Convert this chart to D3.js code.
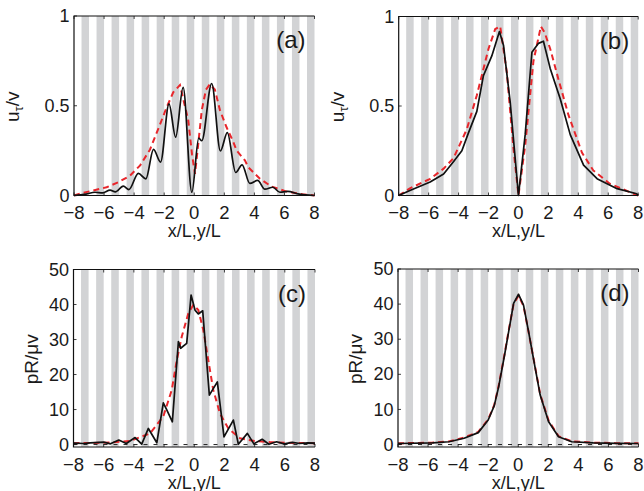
<!DOCTYPE html>
<html>
<head>
<meta charset="utf-8">
<script src="https://cdn.jsdelivr.net/npm/d3@7"></script>
<style>
  html, body { margin: 0; padding: 0; background: #ffffff; }
  #screen { width: 644px; height: 491px; overflow: hidden; }
  text { font-family: "Liberation Sans", Arial, Helvetica, sans-serif; fill: #1a1a1a; }
</style>
</head>
<body>
<div id="screen"></div>
<script>
// gray bands, each 0.5 wide, start positions along x/L
const bandStarts = [-7.5, -6.5, -5.5, -4.5, -3.5, -2.5, -1.5, -0.5, 0.5, 1.5, 2.5, 3.5, 4.5, 5.5, 6.5, 7.5];

const xTicks = [-8, -6, -4, -2, 0, 2, 4, 6, 8];
const xTickLabels = ["\u22128", "\u22126", "\u22124", "\u22122", "0", "2", "4", "6", "8"];
const uTicks = [0, 0.5, 1];
const uTickLabels = ["0", "0.5", "1"];
const pTicks = [0, 10, 20, 30, 40, 50];
const pTickLabels = ["0", "10", "20", "30", "40", "50"];

// (a) solid and dashed
const xA = [-8, -7.2, -6.6, -6.1, -5.6, -5.25, -4.72, -4.35, -3.72, -3.22, -2.71, -2.24, -1.68, -1.24, -0.74, -0.16, 0.3, 0.5, 1.16, 1.74, 2.2, 2.76, 3.18, 3.7, 4.22, 4.7, 5.22, 5.7, 6.22, 6.9, 8];
const uA = [0, 0.008, 0.018, 0.015, 0.03, 0.02, 0.052, 0.033, 0.123, 0.093, 0.257, 0.186, 0.511, 0.325, 0.602, 0.018, 0.32, 0.305, 0.624, 0.248, 0.35, 0.128, 0.171, 0.067, 0.084, 0.035, 0.046, 0.018, 0.023, 0.009, 0];
const xAr = [-8, -7.6, -6.72, -5.83, -5.05, -4.28, -3.6, -2.95, -2.4, -1.84, -1.4, -0.95, -0.4, -0.15, 0.05, 0.27, 0.5, 0.78, 1.04, 1.37, 1.71, 2.15, 2.59, 2.82, 3.37, 3.59, 4.37, 5.14, 6.1, 7.2, 8];
const uAr = [0, 0.01, 0.028, 0.046, 0.074, 0.11, 0.168, 0.255, 0.37, 0.49, 0.575, 0.615, 0.42, 0.23, 0.12, 0.29, 0.475, 0.59, 0.62, 0.59, 0.475, 0.38, 0.30, 0.25, 0.196, 0.158, 0.093, 0.05, 0.023, 0.007, 0];

// (b)
const xB = [-8, -7.25, -5.9, -5.0, -4.33, -3.78, -3.34, -2.78, -2.34, -1.78, -1.27, -1.0, -0.55, 0, 0.45, 0.9, 1.34, 1.67, 2.12, 2.79, 3.46, 4.35, 5.25, 6.59, 7.9, 8];
const uB = [0, 0.028, 0.075, 0.12, 0.19, 0.25, 0.35, 0.47, 0.67, 0.78, 0.916, 0.84, 0.52, 0.0, 0.34, 0.80, 0.85, 0.862, 0.71, 0.54, 0.34, 0.17, 0.094, 0.038, 0.01, 0];
const xBr = [-8, -7.25, -5.9, -5.0, -4.33, -3.45, -2.78, -2.0, -1.55, -1.22, -0.78, -0.33, 0, 0.45, 1.0, 1.5, 1.75, 2.12, 2.67, 3.34, 4.24, 5.0, 6.1, 7.7, 8];
const uBr = [0, 0.04, 0.093, 0.15, 0.21, 0.37, 0.56, 0.82, 0.93, 0.945, 0.69, 0.26, 0, 0.28, 0.75, 0.945, 0.91, 0.82, 0.65, 0.45, 0.24, 0.14, 0.066, 0.01, 0];

// (c)
const xC = [-8, -7.3, -6.9, -6.0, -5.55, -5.0, -4.5, -3.92, -3.48, -3.04, -2.48, -2.05, -1.82, -1.45, -1.05, -0.9, -0.5, -0.21, 0.05, 0.27, 0.56, 1.0, 1.53, 1.97, 2.59, 2.92, 3.52, 3.95, 4.5, 4.95, 5.45, 5.95, 6.5, 7.0, 7.5, 8];
const pC = [0.4, 0.3, 0.5, 0.7, 0.2, 1.3, 0.3, 2.0, 0.1, 4.6, 0.5, 11.9, 9.9, 6.5, 29.4, 27.5, 28.9, 42.7, 38.4, 37.3, 38.2, 14.1, 17.9, 2.2, 7.0, 0.1, 3.2, 0.2, 1.5, 0.1, 0.8, 0.2, 0.6, 0.3, 0.5, 0.4];
const xCr = [-8, -6, -4.25, -2.93, -2.05, -1.49, -1.16, -0.83, -0.39, -0.06, 0.27, 0.6, 0.93, 1.26, 1.7, 2.26, 3.03, 4, 5, 6, 8];
const pCr = [0.4, 0.5, 1.0, 3.2, 8.0, 15.6, 24, 30.8, 37.5, 39.9, 38.4, 32.7, 24.1, 15.6, 8.9, 4.6, 1.8, 1.0, 0.7, 0.5, 0.4];

// (d)
const xD = [-8, -5.7, -4.6, -3.6, -2.66, -2.0, -1.6, -1.3, -0.91, -0.64, -0.31, 0.02, 0.35, 0.69, 1.13, 1.46, 2.02, 2.68, 3.56, 5, 6.5, 8];
const pD = [0.3, 0.5, 0.8, 1.8, 3.4, 7.0, 11.0, 16.5, 25.5, 32.1, 40.2, 42.8, 39.7, 32.1, 21.7, 14.1, 6.5, 2.2, 0.8, 0.5, 0.35, 0.3];
const xDr = [-8, -5.7, -4.6, -3.6, -2.66, -2.0, -1.6, -1.3, -0.91, -0.64, -0.31, 0.02, 0.35, 0.69, 1.13, 1.46, 2.02, 2.68, 3.56, 5, 6.5, 8];
const pDr = [0.35, 0.55, 0.9, 2.0, 3.6, 7.2, 11.2, 16.8, 25.8, 32.4, 40.0, 42.4, 39.5, 32.0, 21.9, 14.3, 6.8, 2.4, 0.9, 0.55, 0.4, 0.35];

const uLabel = ["u", "\u03c4", "/v"];
const pLabel = "pR/\u03bcv";

const panels = [
    {tag: "(a)", left: 74, top: 16, w: 240.5, h: 179.5, yDom: [0, 1], yt: uTicks, ytl: uTickLabels,
     solid: [xA, uA], dashed: [xAr, uAr], smooth: true, ylab: "u"},
    {tag: "(b)", left: 398.7, top: 16.5, w: 239.5, h: 179, yDom: [0, 1], yt: uTicks, ytl: uTickLabels,
     solid: [xB, uB], dashed: [xBr, uBr], smooth: false, ylab: "u"},
    {tag: "(c)", left: 73.5, top: 269.5, w: 241.5, h: 177.5, yDom: [-0.7, 50], yt: pTicks, ytl: pTickLabels,
     solid: [xC, pC], dashed: [xCr, pCr], smooth: false, ylab: "p"},
    {tag: "(d)", left: 398, top: 269, w: 240.5, h: 178, yDom: [-0.7, 50], yt: pTicks, ytl: pTickLabels,
     solid: [xD, pD], dashed: [xDr, pDr], smooth: false, ylab: "p"}
];

const svg = d3.select("#screen").append("svg").attr("width", 644).attr("height", 491);

const drawPanel = function(p) {
    var g = svg.append("g").attr("transform", "translate(" + p.left + "," + p.top + ")");
    var x = d3.scaleLinear().domain([-8, 8]).range([0, p.w]);
    var y = d3.scaleLinear().domain(p.yDom).range([p.h, 0]);

    // stripes
    g.selectAll("rect.band").data(bandStarts).enter().append("rect")
        .attr("x", d => x(d))
        .attr("y", 0)
        .attr("width", d => x(Math.min(d + 0.5, 8)) - x(d))
        .attr("height", p.h)
        .attr("fill", "#d2d3d5");

    // zero line
    g.append("line")
        .attr("x1", 0).attr("x2", p.w)
        .attr("y1", y(0)).attr("y2", y(0))
        .attr("stroke", "#222").attr("stroke-width", 1)
        .attr("stroke-dasharray", "4,6");

    var mk = function(arr) { return arr[0].map((v, i) => [v, arr[1][i]]); };

    var redLine = d3.line().x(d => x(d[0])).y(d => y(d[1]));
    g.append("path").datum(mk(p.dashed))
        .attr("d", redLine)
        .attr("fill", "none")
        .attr("stroke", "#e8262b")
        .attr("stroke-width", 2)
        .attr("stroke-dasharray", "6,4");

    var blackLine = d3.line().x(d => x(d[0])).y(d => y(d[1]))
        .curve(p.smooth ? d3.curveMonotoneX : d3.curveLinear);
    g.append("path").datum(mk(p.solid))
        .attr("d", blackLine)
        .attr("fill", "none")
        .attr("stroke", "#111")
        .attr("stroke-width", 1.7)
        .attr("stroke-linejoin", "round");

    // frame: top, left, bottom
    g.append("path")
        .attr("d", "M" + p.w + ",0H0V" + p.h + "H" + p.w)
        .attr("fill", "none").attr("stroke", "#111").attr("stroke-width", 1.2);

    // ticks (inward, bottom + top) 
    xTicks.forEach((t, i) => {
        g.append("line").attr("x1", x(t)).attr("x2", x(t)).attr("y1", p.h).attr("y2", p.h - 3)
            .attr("stroke", "#111").attr("stroke-width", 0.8);
        g.append("line").attr("x1", x(t)).attr("x2", x(t)).attr("y1", 0).attr("y2", 3)
            .attr("stroke", "#111").attr("stroke-width", 0.8);
        g.append("text").text(xTickLabels[i])
            .attr("x", x(t)).attr("y", p.h + 23.5)
            .attr("text-anchor", "middle")
            .style("font-size", "18.5px");
    });

    p.yt.forEach((t, i) => {
        g.append("line").attr("x1", 0).attr("x2", 3).attr("y1", y(t)).attr("y2", y(t))
            .attr("stroke", "#111").attr("stroke-width", 0.8);
        g.append("text").text(p.ytl[i])
            .attr("x", -4.5).attr("y", y(t))
            .attr("dy", "0.34em")
            .attr("text-anchor", "end")
            .style("font-size", "18px");
    });

    // axis labels
    g.append("text").text("x/L,y/L")
        .attr("x", p.w / 2).attr("y", p.h + 41.5)
        .attr("text-anchor", "middle")
        .style("font-size", "18px");

    var yl = g.append("text")
        .attr("text-anchor", "middle")
        .style("font-size", "19px");
    if (p.ylab == "u") {
        yl.attr("transform", "translate(-55," + (p.h / 2 + 1) + ") rotate(-90)");
        yl.append("tspan").text(uLabel[0]);
        yl.append("tspan").text(uLabel[1]).attr("dy", "4").style("font-size", "13px");
        yl.append("tspan").text(uLabel[2]).attr("dy", "-4");
    } else {
        yl.attr("transform", "translate(-36," + (p.h / 2 + 1) + ") rotate(-90)")
            .text(pLabel);
    }

    // panel tag
    g.append("text").text(p.tag)
        .attr("x", p.w - 9).attr("y", 32)
        .attr("text-anchor", "end")
        .style("font-size", "24px");
};

panels.forEach(drawPanel);
</script>
</body>
</html>
